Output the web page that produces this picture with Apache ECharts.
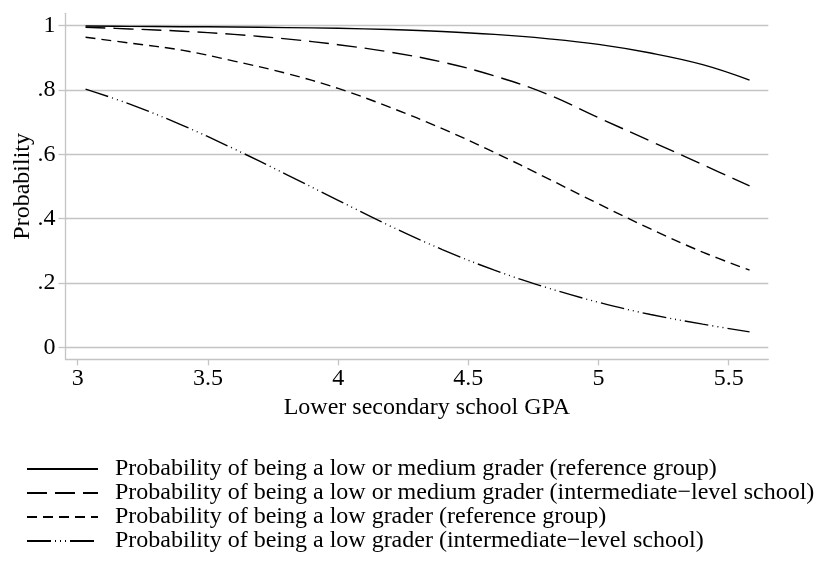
<!DOCTYPE html>
<html>
<head>
<meta charset="utf-8">
<script src="https://cdn.jsdelivr.net/npm/echarts@6/dist/echarts.min.js"></script>
<style>
html,body{margin:0;padding:0;background:#fff;}
#chart{width:816px;height:566px;}
</style>
</head>
<body>
<div id="chart"></div>
<script>
// Lower secondary school GPA (x values)
const gpa = [3.03, 3.2, 3.4, 3.6, 3.8, 4.0, 4.2, 4.4, 4.6, 4.8, 5.0, 5.2, 5.4, 5.58];
// Probability series
const lowMedRef   = [0.999, 0.998, 0.997, 0.996, 0.994, 0.992, 0.988, 0.982, 0.973, 0.960, 0.942, 0.915, 0.879, 0.831];
const lowMedInter = [0.995, 0.990, 0.983, 0.973, 0.959, 0.941, 0.918, 0.887, 0.844, 0.788, 0.714, 0.641, 0.568, 0.502];
const lowRef      = [0.964, 0.946, 0.924, 0.890, 0.852, 0.805, 0.746, 0.680, 0.606, 0.527, 0.446, 0.368, 0.296, 0.240];
const lowInter    = [0.803, 0.756, 0.691, 0.617, 0.538, 0.457, 0.377, 0.304, 0.240, 0.186, 0.140, 0.102, 0.072, 0.048];
const seriesNames = [
  'Probability of being a low or medium grader (reference group)',
  'Probability of being a low or medium grader (intermediate\u2212level school)',
  'Probability of being a low grader (reference group)',
  'Probability of being a low grader (intermediate\u2212level school)'
];
const xTicks = [3, 3.5, 4, 4.5, 5, 5.5];
const yTicks = [0, 0.2, 0.4, 0.6, 0.8, 1];

const font = 'Liberation Serif';
const gridColor = '#c4c4c4';
const dashStyles = ['solid', [20, 8], [10, 6], [24, 4, 1, 4, 1, 4, 1, 4]];
const allSeries = [lowMedRef, lowMedInter, lowRef, lowInter];

const chart = echarts.init(document.getElementById('chart'), null, {renderer: 'canvas'});
chart.setOption({
  animation: false,
  backgroundColor: '#fff',
  grid: {left: 65.5, right: 47.7, top: 13.3, bottom: 206.7, containLabel: false, outerBoundsMode: 'none'},
  xAxis: {
    type: 'value',
    min: 2.953, max: 5.652,
    name: 'Lower secondary school GPA',
    nameLocation: 'middle',
    nameGap: 36,
    nameMoveOverlap: false,
    nameTextStyle: {fontFamily: font, fontSize: 24, color: '#000', padding: [0, 0, 0, 20]},
    axisLine: {show: true, onZero: false, lineStyle: {color: gridColor, width: 1.3}},
    axisTick: {show: true, inside: false, length: 6, customValues: xTicks, lineStyle: {color: gridColor, width: 1.3}},
    axisLabel: {customValues: xTicks, margin: 7, fontFamily: font, fontSize: 24, color: '#000',
      formatter: v => String(v)},
    splitLine: {show: false}
  },
  yAxis: {
    type: 'value',
    min: -0.0373, max: 1.0386,
    name: 'Probability',
    nameLocation: 'middle',
    nameRotate: 90,
    nameGap: 31,
    nameMoveOverlap: false,
    nameTextStyle: {fontFamily: font, fontSize: 24, color: '#000'},
    axisLine: {show: true, onZero: false, lineStyle: {color: gridColor, width: 1.3}},
    axisTick: {show: true, inside: false, length: 7, customValues: yTicks, lineStyle: {color: gridColor, width: 1.3}},
    axisLabel: {customValues: yTicks, margin: 10, fontFamily: font, fontSize: 24, color: '#000',
      formatter: v => {
        const r = Math.round(v * 10) / 10;
        if (r === 0) return '0';
        if (r === 1) return '1';
        return String(r).replace(/^0/, '');
      }},
    splitLine: {show: true, lineStyle: {color: gridColor, width: 1.3}}
  },
  legend: {
    show: true,
    orient: 'vertical',
    left: 26,
    top: 457,
    padding: 0,
    itemWidth: 71,
    itemHeight: 14,
    itemGap: 0,
    itemStyle: {opacity: 0},
    textStyle: {fontFamily: font, fontSize: 24, color: '#000', lineHeight: 24, padding: [0, 0, 0, 12]},
    data: seriesNames
  },
  series: allSeries.map((vals, i) => ({
    name: seriesNames[i],
    type: 'line',
    data: gpa.map((x, j) => [x, vals[j]]),
    smooth: 0.4,
    symbol: 'none',
    lineStyle: {color: '#000', width: 1.4, type: dashStyles[i]},
    itemStyle: {color: 'rgba(0,0,0,0)', borderWidth: 0}
  }))
});
</script>
</body>
</html>
